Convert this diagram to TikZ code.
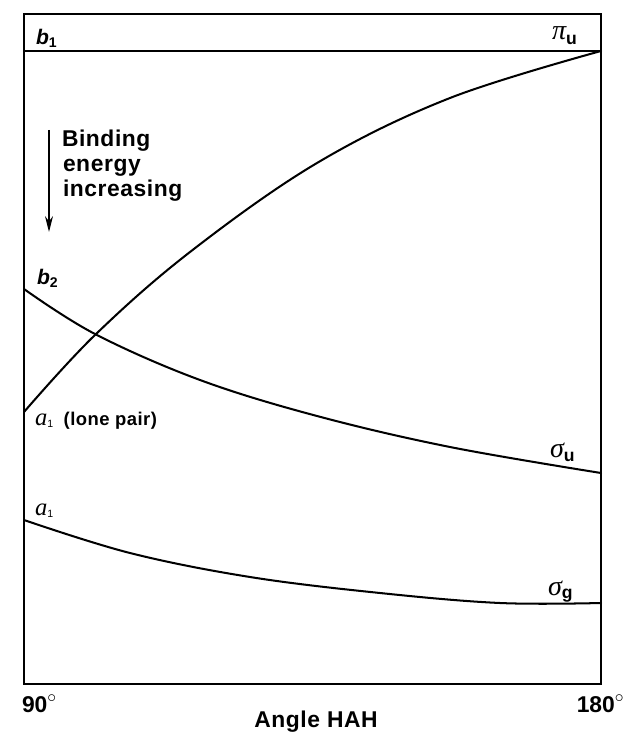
\documentclass[tikz,border=0pt]{standalone}
\usepackage{fontspec}
\setmainfont{Liberation Sans}
\newfontfamily\labf[LetterSpace=2.5]{Liberation Sans}
\newfontfamily\serf{Liberation Serif}
\usetikzlibrary{arrows.meta}
\newcommand{\degr}{\raisebox{0.75ex}{\fontsize{10}{10}\selectfont$\circ$}}
\begin{document}
\begin{tikzpicture}[x=0.02cm,y=-0.02cm,
  curve/.style={line width=1.15pt, line join=round, line cap=round},
  frame/.style={line width=0.9pt},
  lbl/.style={anchor=base west, inner sep=0pt, outer sep=0pt},
  bigtxt/.style={lbl, font=\labf\bfseries\fontsize{13}{15}\selectfont}]
\useasboundingbox (0,0) rectangle (625,732);
% frame
\coordinate (TL) at (24,14);
\coordinate (BR) at (601,684);
\draw[frame] (TL) rectangle (BR);
% b1 line
\coordinate (b1L) at (24,51);
\coordinate (b1R) at (601,51);
\draw[curve] (b1L) -- (b1R);
% a1 (lone pair) -> pi_u
\draw[curve] plot[smooth, tension=0.6] coordinates {(24,412) (95,335) (190,252) (317,163) (450,98) (601,51)};
% b2 -> sigma_u
\draw[curve] plot[smooth, tension=0.6] coordinates {(24,289) (95,334) (200,380) (317,416) (450,447) (601,473)};
% a1 -> sigma_g
\draw[curve] plot[smooth, tension=0.6] coordinates {(24,520) (130,553) (250,577) (380,593) (500,603) (601,603)};
% arrow
\coordinate (arT) at (49,130);
\coordinate (arB) at (49,232);
\draw[line width=0.7pt, -{Stealth[length=9pt,width=4.5pt]}] (arT) -- (arB);
\node[bigtxt] (t1) at (62,147) {Binding};
\node[bigtxt] (t2) at (63,172) {energy};
\node[bigtxt] (t3) at (63,197) {increasing};
% labels
\node[lbl, font=\fontsize{12}{12}\selectfont] (lb1) at (36,45) {\bfseries\itshape b\raisebox{-0.25ex}{\footnotesize\upshape 1}};
\node[lbl] (lpiu) at (552,40) {{\serf\itshape\fontsize{16}{16}\selectfont π}\raisebox{-0.5ex}{\bfseries\fontsize{10}{10}\selectfont u}};
\node[lbl, font=\fontsize{12}{12}\selectfont] (lb2) at (37,285) {\bfseries\itshape b\raisebox{-0.25ex}{\footnotesize\upshape 2}};
\node[lbl] (la1lp) at (35,425) {{\serf\itshape\fontsize{14}{14}\selectfont a}\raisebox{-0.3ex}{\fontsize{6}{6}\selectfont 1}\hspace{6pt}{\labf\bfseries\fontsize{10.5}{10}\selectfont (lone pair)}};
\node[lbl] (la1) at (35,515) {{\serf\itshape\fontsize{14}{14}\selectfont a}\raisebox{-0.3ex}{\fontsize{6}{6}\selectfont 1}};
\node[lbl] (lsu) at (550,457) {{\serf\itshape\fontsize{16}{16}\selectfont σ}\raisebox{-0.5ex}{\bfseries\fontsize{10}{10}\selectfont u}};
\node[lbl] (lsg) at (548,595) {{\serf\itshape\fontsize{16}{16}\selectfont σ}\raisebox{-0.4ex}{\bfseries\fontsize{10}{10}\selectfont g}};
% axis labels
\node[lbl, font=\bfseries\fontsize{13}{13}\selectfont] (x90) at (22,712) {90\degr};
\node[anchor=base east, inner sep=0pt, font=\bfseries\fontsize{13}{13}\selectfont] (x180) at (624,712) {180\degr};
\node[anchor=base, inner sep=0pt, font=\labf\bfseries\fontsize{13}{13}\selectfont] (xlab) at (316,727) {Angle HAH};
\end{tikzpicture}
\end{document}
